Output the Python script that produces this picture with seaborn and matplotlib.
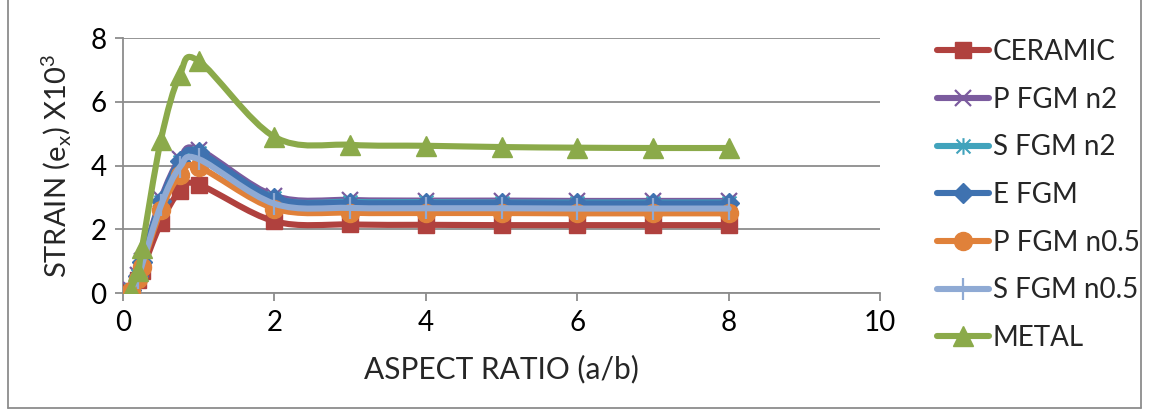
import numpy as np
import pandas as pd
import seaborn as sns
import matplotlib.pyplot as plt
from matplotlib.path import Path
from matplotlib.patches import PathPatch
from matplotlib.lines import Line2D

# Aspect ratio values (a/b)
aspect_ratio = [0.1, 0.2, 0.25, 0.5, 0.75, 1, 2, 3, 4, 5, 6, 7, 8]

# Strain values (x10^3) per material
ceramic     = [0.05, 0.40, 0.70, 2.20, 3.20, 3.40, 2.25, 2.15, 2.14, 2.13, 2.13, 2.13, 2.13]
p_fgm_n2    = [0.10, 0.55, 1.00, 2.95, 4.20, 4.50, 3.05, 2.92, 2.90, 2.90, 2.89, 2.89, 2.89]
s_fgm_n2    = [0.09, 0.52, 0.95, 2.85, 4.10, 4.38, 2.97, 2.86, 2.85, 2.84, 2.84, 2.84, 2.84]
e_fgm       = [0.09, 0.53, 0.97, 2.88, 4.15, 4.42, 2.98, 2.83, 2.82, 2.82, 2.81, 2.81, 2.81]
p_fgm_n05   = [0.07, 0.45, 0.82, 2.60, 3.70, 3.95, 2.65, 2.52, 2.51, 2.51, 2.50, 2.50, 2.50]
s_fgm_n05   = [0.08, 0.48, 0.88, 2.75, 3.95, 4.20, 2.80, 2.67, 2.66, 2.66, 2.65, 2.65, 2.65]
metal       = [0.10, 0.70, 1.40, 4.80, 6.85, 7.28, 4.90, 4.65, 4.62, 4.58, 4.56, 4.55, 4.55]

series_names = ["CERAMIC", "P FGM n2", "S FGM n2", "E FGM", "P FGM n0.5", "S FGM n0.5", "METAL"]
series_values = [ceramic, p_fgm_n2, s_fgm_n2, e_fgm, p_fgm_n05, s_fgm_n05, metal]

colors = {
    "CERAMIC": "#B0413E",
    "P FGM n2": "#7B5B9E",
    "S FGM n2": "#41A3BC",
    "E FGM": "#3F72B0",
    "P FGM n0.5": "#E0813A",
    "S FGM n0.5": "#8FAAD4",
    "METAL": "#8BAA4A",
}

# Asterisk marker: an "x" crossed by a vertical stroke
asterisk = Path([(-1, -1), (1, 1), (-1, 1), (1, -1), (0, -1.2), (0, 1.2)],
                [Path.MOVETO, Path.LINETO, Path.MOVETO, Path.LINETO, Path.MOVETO, Path.LINETO])

markers = {
    "CERAMIC": ("s", 12, None),
    "P FGM n2": ("x", 12, 1.6),
    "S FGM n2": (asterisk, 12, 1.5),
    "E FGM": ("D", 10, None),
    "P FGM n0.5": ("o", 13, None),
    "S FGM n0.5": ("|", 16, 1.6),
    "METAL": ("^", 14, None),
}

rows = []
for name, vals in zip(series_names, series_values):
    for x, y in zip(aspect_ratio, vals):
        rows.append({"series": name, "ratio": x, "strain": y})
df = pd.DataFrame(rows)

sns.set_theme(style="white")
plt.rcParams["font.family"] = ["Lato", "DejaVu Sans"]
plt.rcParams["mathtext.fontset"] = "custom"
plt.rcParams["mathtext.rm"] = "Lato"

fig = plt.figure(figsize=(11.51, 4.18), dpi=100)
ax = fig.add_axes([0.1069, 0.299, 0.6577, 0.610])


def smooth_path(xs, ys, tension=1/6):
    """Cubic Bezier path through the points (Catmull-Rom style smoothing)."""
    xs = np.asarray(xs, float)
    ys = np.asarray(ys, float)
    n = len(xs)
    verts = [(xs[0], ys[0])]
    codes = [Path.MOVETO]
    for i in range(n - 1):
        i0 = max(i - 1, 0)
        i3 = min(i + 2, n - 1)
        c1 = (xs[i] + (xs[i + 1] - xs[i0]) * tension, ys[i] + (ys[i + 1] - ys[i0]) * tension)
        c2 = (xs[i + 1] - (xs[i3] - xs[i]) * tension, ys[i + 1] - (ys[i3] - ys[i]) * tension)
        verts += [c1, c2, (xs[i + 1], ys[i + 1])]
        codes += [Path.CURVE4] * 3
    return Path(verts, codes)


handles = []
for z, name in enumerate(series_names):
    sub = df[df["series"] == name]
    col = colors[name]
    patch = PathPatch(smooth_path(sub["ratio"], sub["strain"]), facecolor="none",
                      edgecolor=col, lw=4.4, capstyle="round", joinstyle="round",
                      transform=ax.transData, zorder=3 + z * 0.1)
    ax.add_patch(patch)
    m, ms, mew = markers[name]
    kw = dict(marker=m, markersize=ms, color=col, linestyle="none",
              markeredgecolor=col, zorder=3.05 + z * 0.1)
    if mew:
        kw["markeredgewidth"] = mew
    ax.plot(sub["ratio"], sub["strain"], **kw)
    handles.append(Line2D([0], [0], color=col, lw=4.4, solid_capstyle="round",
                          marker=m, markersize=ms, markeredgecolor=col,
                          markeredgewidth=mew if mew else 1.0))

ax.set_xlim(0, 10)
ax.set_ylim(0, 8)
ax.set_xticks([0, 2, 4, 6, 8, 10])
ax.set_yticks([0, 2, 4, 6, 8])
ax.yaxis.grid(True, color="#8C8C8C", lw=1.3)
ax.xaxis.grid(False)
for s in ["top", "right"]:
    ax.spines[s].set_visible(False)
for s in ["left", "bottom"]:
    ax.spines[s].set_color("#8C8C8C")
    ax.spines[s].set_linewidth(1.3)
ax.tick_params(axis="both", which="major", direction="out", length=6, width=1.3,
               color="#8C8C8C", labelsize=20, labelcolor="black", pad=6)
ax.tick_params(axis="x", bottom=True)
ax.tick_params(axis="y", left=True)

ax.set_xlabel("ASPECT RATIO (a/b)", fontsize=21.5, labelpad=14)
ax.set_ylabel(r"STRAIN (e$_\mathregular{x}$) X10$^\mathregular{3}$", fontsize=21, labelpad=12)

leg = ax.legend(handles, series_names, loc="upper left", bbox_to_anchor=(1.06, 1.04),
                frameon=False, fontsize=20, handlelength=1.9, handletextpad=0.12,
                labelspacing=0.78, borderaxespad=0)

# Chart border
fig.add_artist(Line2D([8 / 1151, 8 / 1151], [10 / 418, 1.0], color="#8C8C8C", lw=1.3))
fig.add_artist(Line2D([8 / 1151, 1141 / 1151], [10 / 418, 10 / 418], color="#8C8C8C", lw=1.3))
fig.add_artist(Line2D([1141 / 1151, 1141 / 1151], [10 / 418, 1.0], color="#8C8C8C", lw=1.3))

fig.savefig("out.png", dpi=100, facecolor="white")
